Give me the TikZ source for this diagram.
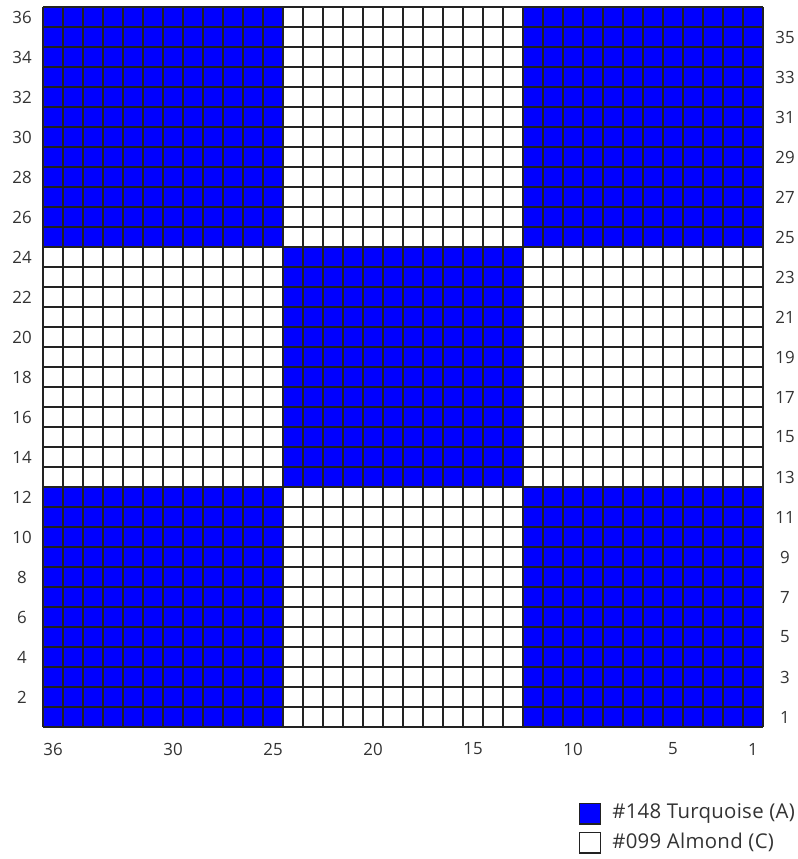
\documentclass[tikz,border=0pt]{standalone}
\usepackage{fontspec}
\setmainfont{Open Sans}
\newfontfamily\legendfont[LetterSpace=1.5]{Open Sans}
\definecolor{turq}{HTML}{0000FF}
\definecolor{gridgray}{HTML}{222222}
\definecolor{labelgray}{HTML}{333333}
\begin{document}
\begin{tikzpicture}[x=0.5cm,y=0.5cm,
    cellline/.style={draw=gridgray,line width=1.2pt},
    axislabel/.style={text=labelgray,inner sep=0pt,font=\fontsize{12}{14}\selectfont},
    swatch/.style={draw=gridgray,line width=0.9pt,minimum size=0.52cm,inner sep=0pt},
    legendtext/.style={text=labelgray,anchor=west,inner sep=0pt,font=\legendfont\fontsize{14.5}{16}\selectfont}]

\useasboundingbox (-2.15,-6.6) rectangle (37.75,36.35);

% blue blocks
\foreach \bx/\by in {0/0,2/0,1/1,0/2,2/2}
  \fill[turq] (\bx*12,\by*12) rectangle ++(12,12);

% grid
\draw[cellline,step=0.5cm] (0,0) grid (36,36);

% row numbers
\foreach \n in {2,4,...,36}
  \node[axislabel] (left\n) at (-1.05,\n-0.5) {\n};
\foreach \n in {1,3,...,35}
  \node[axislabel] (right\n) at (37.1,\n-0.5) {\n};

% column numbers
\foreach \n in {36,30,25,20,15,10,5,1}
  \node[axislabel] (bottom\n) at (36.5-\n,-1.1) {\n};

% legend
\node[swatch,fill=turq] (keyA) at (27.35,-4.33) {};
\node[legendtext] (textA) at (28.45,-4.33) {\#148 Turquoise (A)};
\node[swatch,fill=white] (keyC) at (27.35,-5.78) {};
\node[legendtext] (textC) at (28.45,-5.78) {\#099 Almond (C)};
\end{tikzpicture}
\end{document}
